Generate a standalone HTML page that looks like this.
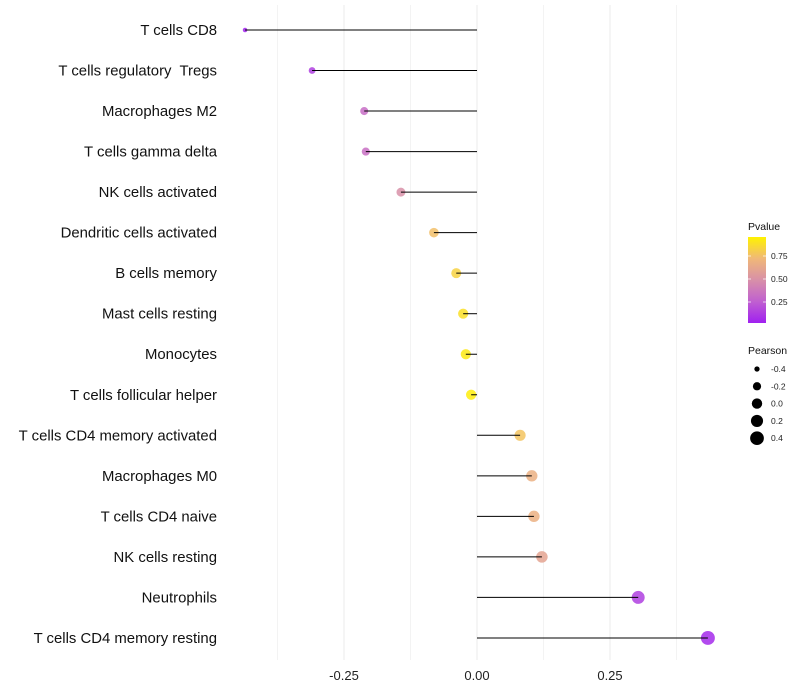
<!DOCTYPE html>
<html><head><meta charset="utf-8"><style>
body{margin:0;background:#fff;}
svg{display:block;font-family:"Liberation Sans",sans-serif;}
text{white-space:pre;}
</style></head><body>
<svg id="c" width="800" height="700"></svg>
<script>
const categories=["T cells CD8","T cells regulatory  Tregs","Macrophages M2","T cells gamma delta","NK cells activated","Dendritic cells activated","B cells memory","Mast cells resting","Monocytes","T cells follicular helper","T cells CD4 memory activated","Macrophages M0","T cells CD4 naive","NK cells resting","Neutrophils","T cells CD4 memory resting"];
const pearson=[-0.436,-0.310,-0.212,-0.209,-0.143,-0.081,-0.039,-0.026,-0.021,-0.011,0.081,0.103,0.107,0.122,0.303,0.434];
const pvalue=[0.01,0.12,0.32,0.33,0.5,0.78,0.86,0.92,0.96,0.98,0.8,0.7,0.7,0.62,0.12,0.04];
const xTicks=[-0.25,0,0.25];
const xTickLabels=["-0.25","0.00","0.25"];
const pTicks=[0.25,0.5,0.75];
const sizeTicks=[-0.4,-0.2,0,0.2,0.4];
const NS="http://www.w3.org/2000/svg";
const svg=document.getElementById('c');
function mk(t,a,p){const e=document.createElementNS(NS,t);for(const k in a)e.setAttribute(k,a[k]);(p||svg).appendChild(e);return e;}
const x=v=>477+v*532;
const y=i=>30+i*40.53;
const r=v=>Math.sqrt(Math.max(2,27+50*v));
const stops=[[0,[160,32,240]],[0.25,[192,96,208]],[0.5,[216,144,168]],[0.75,[240,184,120]],[1,[255,242,0]]];
function col(p){for(let k=0;k<stops.length-1;k++){const [a,ca]=stops[k],[b,cb]=stops[k+1];if(p<=b){const t=(p-a)/(b-a);return 'rgb('+ca.map((v,i)=>Math.round(v+(cb[i]-v)*t))+')';}}return 'rgb(255,242,0)';}
// grid
[-0.375,-0.125,0.125,0.375].forEach(v=>{const g=mk('line',{x1:x(v),x2:x(v),y1:5,y2:660,stroke:'#f3f3f3','stroke-width':1});});
xTicks.forEach((v,i)=>{const g=mk('line',{x1:x(v),x2:x(v),y1:5,y2:660,stroke:'#ebebeb','stroke-width':1});
const t=mk('text',{x:x(v),y:680,'text-anchor':'middle','font-size':13,fill:'#222'});t.textContent=xTickLabels[i];});
categories.forEach((c,i)=>{const t=mk('text',{x:217,y:y(i)+5,'text-anchor':'end','font-size':14.9,fill:'#111'});t.textContent=c;
const d=mk('circle',{cx:x(pearson[i]),cy:y(i),r:r(pearson[i]),fill:col(pvalue[i]),'fill-opacity':0.85});
const l=mk('line',{x1:x(0),x2:x(pearson[i]),y1:y(i),y2:y(i),stroke:'#000','stroke-width':1});});
// color legend
const defs=mk('defs',{});const lg=mk('linearGradient',{id:'g',x1:0,y1:1,x2:0,y2:0},defs);
stops.forEach(s=>mk('stop',{offset:s[0],'stop-color':'rgb('+s[1]+')'},lg));
let t=mk('text',{x:748,y:230,'font-size':10.5,fill:'#111'});t.textContent='Pvalue';
const b=mk('rect',{x:748,y:237,width:18,height:86,fill:'url(#g)'});
const py=p=>325-p*92;
pTicks.forEach(p=>{mk('line',{x1:748,x2:751,y1:py(p),y2:py(p),stroke:'#fff','stroke-width':0.7});mk('line',{x1:763,x2:766,y1:py(p),y2:py(p),stroke:'#fff','stroke-width':0.7});
const tt=mk('text',{x:771,y:py(p)+3,'font-size':8.5,fill:'#222'});tt.textContent=p.toFixed(2);});
t=mk('text',{x:748,y:354,'font-size':10.5,fill:'#111'});t.textContent='Pearson';
sizeTicks.forEach((v,i)=>{const yy=369+i*17.3;const c=mk('circle',{cx:757,cy:yy,r:r(v),fill:'#000'});
const tt=mk('text',{x:771,y:yy+3,'font-size':8.5,fill:'#222'});tt.textContent=v.toFixed(1);});
</script>
</body></html>
